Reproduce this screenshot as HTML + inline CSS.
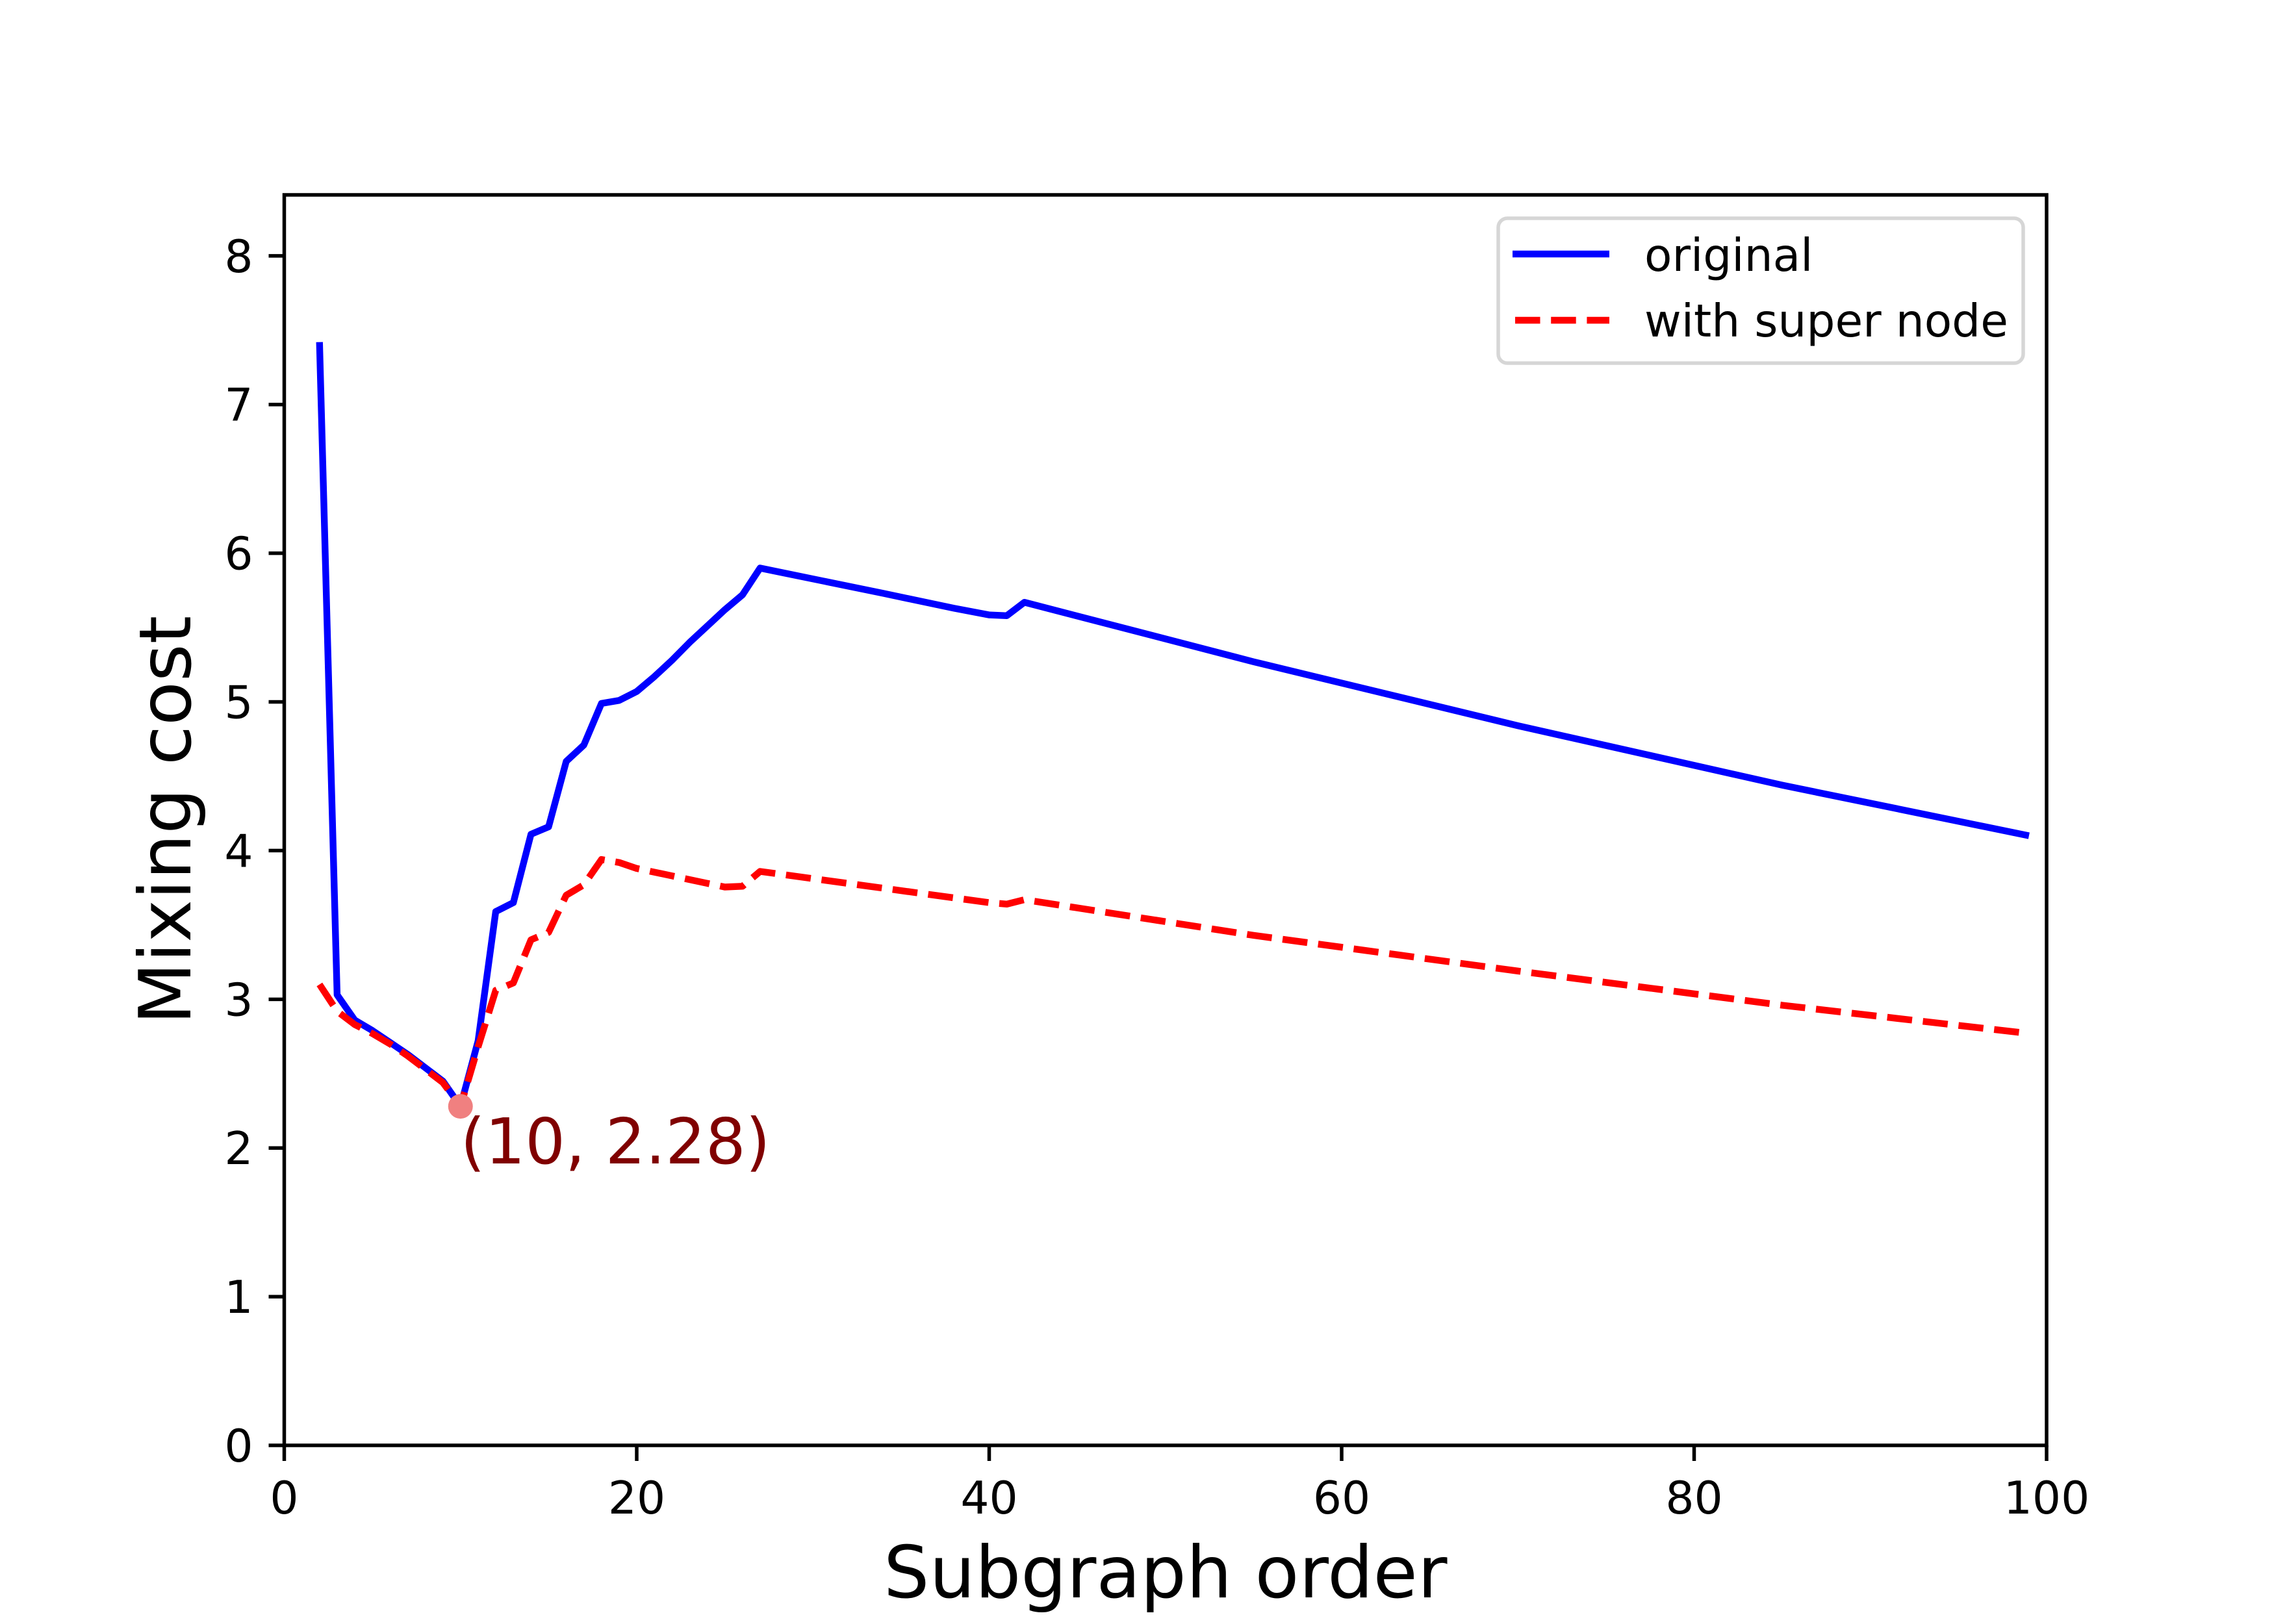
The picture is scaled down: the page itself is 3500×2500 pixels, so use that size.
<!DOCTYPE html>
<html><head><meta charset="utf-8"><style>
html,body{margin:0;padding:0;background:#fff;}
svg{display:block;font-family:"DejaVu Sans","Liberation Sans",sans-serif;}
</style></head><body>
<svg id="chart" width="3500" height="2500" viewBox="0 0 3500 2500" xmlns="http://www.w3.org/2000/svg">
<rect width="3500" height="2500" fill="#fff"/>
<g id="plot"></g>
</svg>
<script>
const xTicks = [0, 20, 40, 60, 80, 100];
const yTicks = [0, 1, 2, 3, 4, 5, 6, 7, 8];
const origX = [2,3,4,5,6,7,8,9,10,11,12,13,14,15,16,17,18,19,20,21,22,23,24,25,26,27,34,38,40,41,42,55,70,85,99];
const origY = [7.42,3.03,2.86,2.79,2.71,2.63,2.54,2.45,2.28,2.72,3.59,3.65,4.11,4.16,4.60,4.71,4.99,5.01,5.07,5.17,5.28,5.40,5.51,5.62,5.72,5.90,5.73,5.63,5.585,5.58,5.67,5.27,4.84,4.44,4.10];
const superX = [2,3,4,5,6,7,8,9,10,11,12,13,14,15,16,17,18,19,20,22,24,25,26,27,40,41,42,55,70,85,99];
const superY = [3.10,2.92,2.83,2.77,2.70,2.62,2.53,2.44,2.28,2.68,3.06,3.11,3.40,3.45,3.70,3.77,3.94,3.92,3.88,3.83,3.78,3.755,3.76,3.86,3.65,3.64,3.67,3.43,3.19,2.96,2.77];
const minPoint = [10, 2.28];
const minLabel = "(10, 2.28)";

const L=437.5,R=3150,T=300,B=2225,XMAX=100,YMAX=8.41;
const sx=v=>L+(v/XMAX)*(R-L);
const sy=v=>B-(v/YMAX)*(B-T);
const NS="http://www.w3.org/2000/svg";
const g=document.getElementById('plot');
function mk(tag,attrs,parent){const e=document.createElementNS(NS,tag);for(const k in attrs)e.setAttribute(k,attrs[k]);(parent||g).appendChild(e);return e;}

const pOrig=mk('polyline',{points:origX.map((x,i)=>sx(x)+','+sy(origY[i])).join(' '),fill:'none',stroke:'#0000ff','stroke-width':10.4,'stroke-linejoin':'round','stroke-linecap':'butt'});


const pSup=mk('polyline',{points:superX.map((x,i)=>sx(x)+','+sy(superY[i])).join(' '),fill:'none',stroke:'#ff0000','stroke-width':10.4,'stroke-dasharray':'38.5 16.7','stroke-linejoin':'round','stroke-linecap':'butt'});



const mp=mk('circle',{cx:sx(minPoint[0]),cy:sy(minPoint[1]),r:19,fill:'#f08080'});


const ml=mk('text',{x:sx(minPoint[0]),y:sy(minPoint[1])+88,'font-size':97,fill:'#800000'});
ml.textContent=minLabel;



xTicks.forEach(t=>{
  const tl=mk('line',{x1:sx(t),x2:sx(t),y1:B,y2:B+24,stroke:'#000','stroke-width':5.5});
  
  
  const tx=mk('text',{x:sx(t),y:2330,'font-size':69.4,'text-anchor':'middle',fill:'#000'});
  tx.textContent=t;
  
  
});
yTicks.forEach(t=>{
  const tl=mk('line',{x1:L-24,x2:L,y1:sy(t),y2:sy(t),stroke:'#000','stroke-width':5.5});
  
  
  const tx=mk('text',{x:L-48,y:sy(t)+25,'font-size':69.4,'text-anchor':'end',fill:'#000'});
  tx.textContent=t;
  
  
});

const fr=mk('rect',{x:L,y:T,width:R-L,height:B-T,fill:'none',stroke:'#000','stroke-width':5.5});



const xt=mk('text',{x:(L+R)/2,y:2459,'font-size':111,'text-anchor':'middle',fill:'#000'});
xt.textContent='Subgraph order';


const yt=mk('text',{x:0,y:0,'font-size':111,'text-anchor':'middle',fill:'#000',transform:'translate(293,'+((T+B)/2)+') rotate(-90)'});
yt.textContent='Mixing cost';



const lg=mk('g',{});


mk('rect',{x:2306,y:336,width:808,height:223,rx:14,fill:'#fff',stroke:'#d6d6d6','stroke-width':5.5},lg);
const l1=mk('line',{x1:2328,x2:2477,y1:391,y2:391,stroke:'#0000ff','stroke-width':10.4},lg);


const t1=mk('text',{x:2531,y:417,'font-size':69.4,fill:'#000'},lg);
t1.textContent='original';


const l2=mk('line',{x1:2332,x2:2477,y1:493,y2:493,stroke:'#ff0000','stroke-width':10.4,'stroke-dasharray':'38.5 16.7'},lg);


const t2=mk('text',{x:2531,y:518,'font-size':69.4,fill:'#000'},lg);
t2.textContent='with super node';


</script>
</body></html>
